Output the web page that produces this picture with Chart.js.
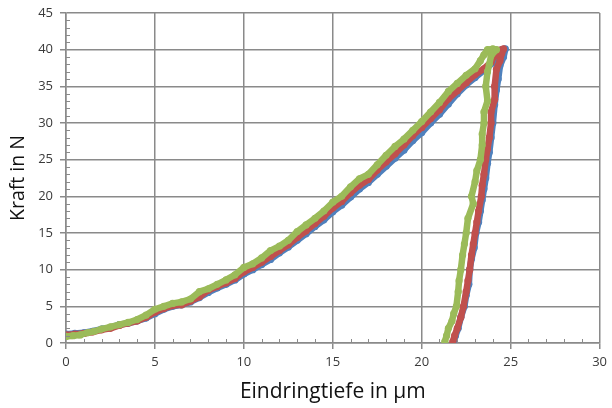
<!DOCTYPE html>
<html>
<head>
<meta charset="utf-8">
<script src="https://cdn.jsdelivr.net/npm/chart.js@4/dist/chart.umd.min.js"></script>
<style>
html,body{margin:0;padding:0;background:#fff;}
#wrap{width:612px;height:408px;}
</style>
</head>
<body>
<div id="wrap"><canvas id="c" width="612" height="408"></canvas></div>
<script>
// ---- data ----
const xTitle = "Eindringtiefe in µm";
const yTitle = "Kraft in N";
const xTicks = [0, 5, 10, 15, 20, 25, 30];
const yTicks = [0, 5, 10, 15, 20, 25, 30, 35, 40, 45];

const blueX = [0,0.5,1.0,1.5,2.0,2.5,3.0,3.5,4.0,4.5,5.0,5.5,6.0,6.5,7.0,7.5,8.0,8.5,9.0,9.5,10.0,10.5,11.0,11.5,12.0,12.5,13.0,13.5,14.0,14.5,15.0,15.5,16.0,16.5,17.0,17.5,18.0,18.5,19.0,19.5,20.0,20.5,21.0,21.5,22.0,22.5,23.0,23.5,24.0,24.3,24.5,24.7,
  24.6,24.4,24.3,24.2,24.1,24.0,23.9,23.8,23.7,23.6,23.5,23.4,23.3,23.2,23.05,22.95,22.8,22.7,22.65,22.5,22.4,22.2,22.05,21.9,21.8];
const blueY = [1.2,1.3,1.4,1.6,1.9,2.1,2.5,2.7,3.0,3.4,4.0,4.6,5.0,5.2,5.6,6.2,6.9,7.5,8.0,8.6,9.4,10.0,10.7,11.4,12.3,13.1,14.0,14.9,15.9,16.8,17.9,18.8,19.9,21.0,21.9,23.0,24.1,25.2,26.3,27.6,28.7,30.0,31.2,32.6,34.0,35.2,36.2,37.2,38.2,39.3,40.0,40.1,
  39.0,37.8,36.0,34.5,32.5,30.0,28.0,26.0,24.5,22.5,21.0,19.5,18.0,16.5,15.0,13.0,11.5,10.0,8.0,6.5,5.0,3.5,2.0,1.0,0.2];

const redX = [0,0.5,1.0,1.5,2.0,2.5,3.0,3.5,4.0,4.5,5.0,5.5,6.0,6.5,7.0,7.5,8.0,8.5,9.0,9.5,10.0,10.5,11.0,11.5,12.0,12.5,13.0,13.5,14.0,14.5,15.0,15.5,16.0,16.5,17.0,17.5,18.0,18.5,19.0,19.5,20.0,20.5,21.0,21.5,22.0,22.5,23.0,23.5,23.9,24.1,24.3,24.6,
  24.5,24.4,24.2,24.1,24.1,23.9,23.9,23.8,23.7,23.6,23.5,23.4,23.35,23.2,23.1,23.0,22.9,22.8,22.7,22.6,22.5,22.35,22.2,22.0,21.85,21.75];
const redY = [1.1,1.2,1.3,1.5,1.8,2.0,2.4,2.7,3.0,3.5,4.2,4.7,5.1,5.2,5.7,6.3,7.2,7.7,8.2,8.8,9.7,10.3,11.0,11.8,12.6,13.4,14.4,15.3,16.3,17.3,18.4,19.3,20.5,21.5,22.3,23.6,24.7,25.8,27.0,28.3,29.4,30.6,31.8,33.3,34.4,35.5,36.6,37.4,38.3,39.2,39.9,40.1,
  39.5,38.5,37.3,35.0,33.2,31.5,30.0,28.0,26.5,25.0,23.0,21.5,20.0,18.0,16.5,15.0,13.5,12.0,10.0,8.5,7.0,5.0,3.5,2.0,1.0,0.2];

const greenX = [0,0.4,0.8,1.2,1.6,2.0,2.5,3.0,3.5,4.0,4.5,5.0,5.5,6.0,6.5,7.0,7.5,8.0,8.5,9.0,9.5,10.0,10.5,11.0,11.5,12.0,12.5,13.0,13.5,14.0,14.5,15.0,15.5,16.0,16.5,17.0,17.5,18.0,18.5,19.0,19.5,20.0,20.5,21.0,21.5,22.0,22.5,23.0,23.3,23.5,23.7,24.0,24.2,
  23.9,23.8,23.7,23.6,23.7,23.5,23.5,23.4,23.4,23.3,23.1,23.0,22.8,22.9,22.6,22.5,22.4,22.3,22.2,22.1,22.05,21.95,21.8,21.7,21.5,21.4,21.3];
const greenY = [0.9,1.0,1.1,1.4,1.6,1.9,2.2,2.5,2.8,3.2,3.8,4.6,5.0,5.4,5.6,6.0,7.0,7.4,8.0,8.6,9.3,10.3,10.8,11.6,12.6,13.2,14.0,15.2,16.1,17.0,18.0,19.2,20.0,21.3,22.4,23.0,24.3,25.6,26.8,27.8,29.0,30.2,31.5,32.8,34.3,35.4,36.5,37.4,38.5,39.3,40.0,40.1,40.0,
  39.2,38.0,37.0,35.0,33.0,31.5,30.0,28.5,27.0,25.0,23.5,22.0,20.0,19.0,17.0,15.0,13.5,12.0,10.0,8.5,7.0,5.0,4.0,3.0,2.0,1.0,0.2];

const seriesColors = { blue: '#4F81BD', red: '#C0504D', green: '#9BBB59' };

function pts(xs, ys){ return xs.map((x,i)=>({x:x, y:ys[i]})); }

const gridColor = '#8a8a8a';

const minorTicks = {
  id: 'minorTicks',
  afterDatasetsDraw(chart){
    const ctx = chart.ctx, xs = chart.scales.x, ys = chart.scales.y;
    ctx.save();
    ctx.strokeStyle = gridColor;
    ctx.lineWidth = 1;
    for (let v = 0; v <= 45; v++){
      if (v % 5 === 0) continue;
      const py = Math.round(ys.getPixelForValue(v)) + 0.5;
      ctx.beginPath(); ctx.moveTo(xs.left, py); ctx.lineTo(xs.left + 4, py); ctx.stroke();
    }
    for (let v = 0; v <= 30; v++){
      if (v % 5 === 0) continue;
      const px = Math.round(xs.getPixelForValue(v)) + 0.5;
      ctx.beginPath(); ctx.moveTo(px, ys.bottom); ctx.lineTo(px, ys.bottom - 4); ctx.stroke();
    }
    ctx.restore();
  }
};

function ds(label, xs, ys, color, order){
  return {
    label: label,
    data: pts(xs, ys),
    showLine: true,
    borderColor: color,
    backgroundColor: color,
    borderWidth: 6.5,
    pointRadius: 3.6,
    pointBorderWidth: 0,
    borderJoinStyle: 'round',
    borderCapStyle: 'round',
    tension: 0,
    order: order
  };
}

new Chart(document.getElementById('c'), {
  type: 'scatter',
  data: {
    datasets: [
      ds('Blau', blueX, blueY, seriesColors.blue, 3),
      ds('Rot', redX, redY, seriesColors.red, 2),
      ds('Grün', greenX, greenY, seriesColors.green, 1)
    ]
  },
  options: {
    responsive: false,
    animation: false,
    devicePixelRatio: 1,
    layout: { padding: { top: 13, right: 12, left: 0, bottom: 0 } },
    plugins: { legend: { display: false }, tooltip: { enabled: false } },
    scales: {
      x: {
        type: 'linear', min: 0, max: 30,
        afterBuildTicks: s => { s.ticks = xTicks.map(v => ({value: v})); },
        afterFit: s => { s.height = 65; },
        ticks: { font: { family: 'Open Sans', size: 13 }, color: '#3a3a3a', padding: 5, maxRotation: 0 },
        grid: { color: gridColor, lineWidth: 1.5, tickLength: 6, drawTicks: true },
        border: { color: gridColor, width: 1.5 },
        title: { display: true, text: xTitle, font: { family: 'Open Sans', size: 21 }, color: '#111', padding: { top: 0, bottom: 3 } }
      },
      y: {
        type: 'linear', min: 0, max: 45,
        afterBuildTicks: s => { s.ticks = yTicks.map(v => ({value: v})); },
        afterFit: s => { s.width = 66; s.paddingTop = 0; s.paddingBottom = 0; },
        ticks: { font: { family: 'Open Sans', size: 13, lineHeight: 1 }, color: '#3a3a3a', padding: 7 },
        grid: { color: gridColor, lineWidth: 1.5, tickLength: 6, drawTicks: true },
        border: { color: gridColor, width: 1.5 },
        title: { display: true, text: yTitle, font: { family: 'Open Sans', size: 19.5 }, color: '#111', padding: { top: 7, bottom: 0 } }
      }
    }
  },
  plugins: [minorTicks]
});
</script>
</body>
</html>
